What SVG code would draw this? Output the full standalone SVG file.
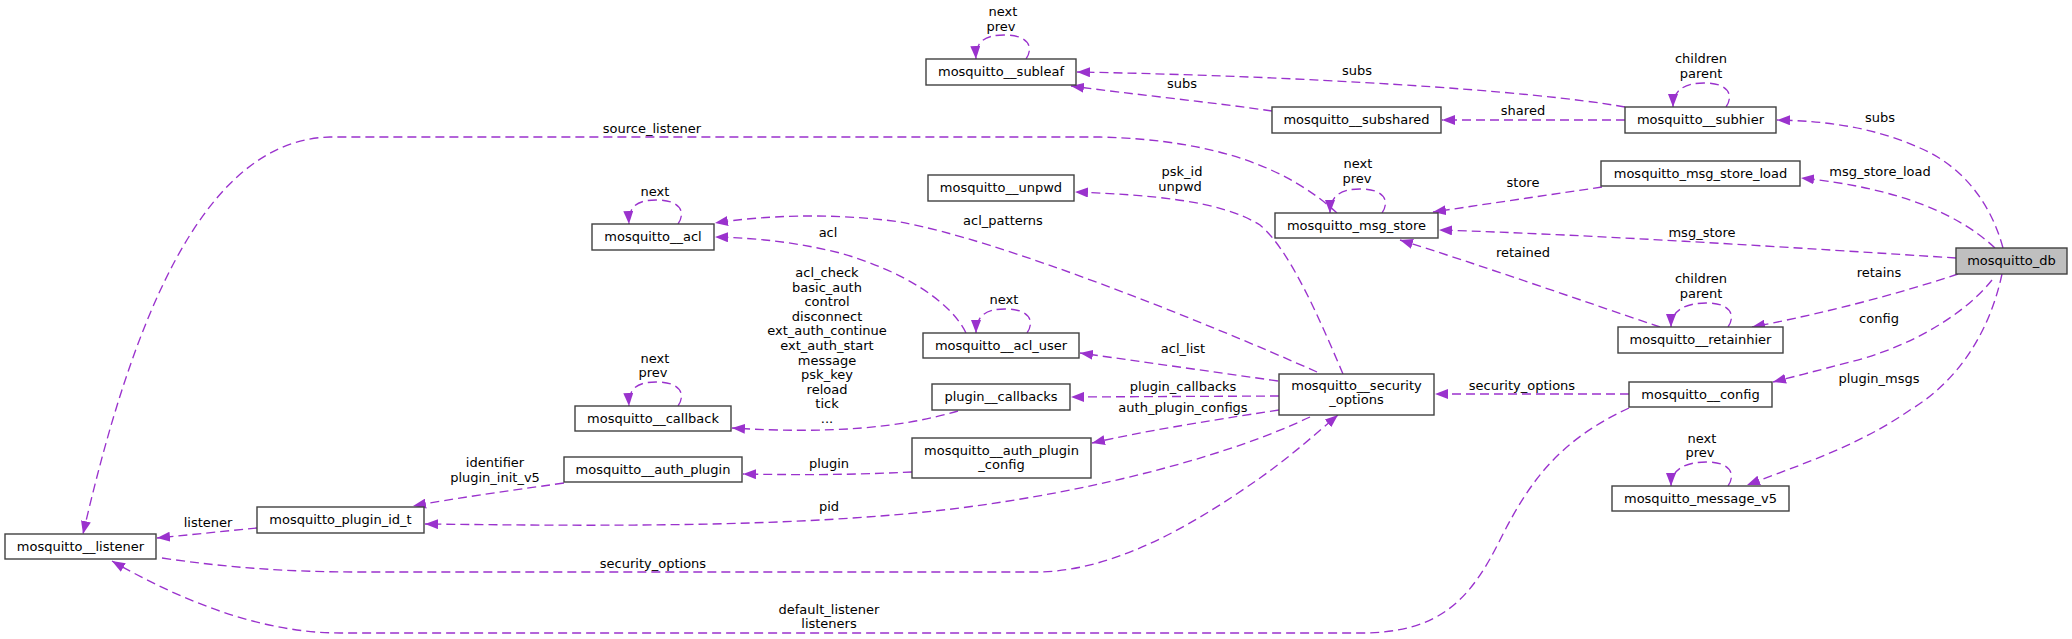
<svg xmlns="http://www.w3.org/2000/svg" width="2072" height="639" viewBox="0 0 2072 639">
<style>
text{font-family:"DejaVu Sans","Liberation Sans",sans-serif;font-size:13px;fill:#000;text-anchor:middle}
.box{fill:#fff;stroke:#404040;stroke-width:1.4}
.cur{fill:#bfbfbf;stroke:#404040;stroke-width:1.4}
.e{fill:none;stroke:#9a32cd;stroke-width:1.35;stroke-dasharray:9,5;marker-end:url(#arr)}
</style>
<defs>
<marker id="arr" viewBox="0 0 13 10" refX="13" refY="5" markerWidth="13" markerHeight="10" markerUnits="userSpaceOnUse" orient="auto">
<path d="M0,0 L13,5 L0,10 z" fill="#9a32cd"/>
</marker>
</defs>
<rect width="2072" height="639" fill="#fff"/>
<g id="edges">
<path class="e" d="M1026,59 C1033,49 1031,35 1004,35 C986,35 975,41 976,59"/>
<path class="e" d="M1726,107 C1733,97 1731,83 1704,83 C1686,83 1673,89 1673,107"/>
<path class="e" d="M1382,213 C1389,203 1387,189 1360,189 C1342,189 1330,195 1330,213"/>
<path class="e" d="M678,224 C685,214 683,200 656,200 C638,200 628,206 629,224"/>
<path class="e" d="M1728,327 C1735,317 1733,303 1706,303 C1688,303 1671,309 1671,327"/>
<path class="e" d="M1027,333 C1034,323 1032,309 1005,309 C987,309 976,315 976,333"/>
<path class="e" d="M678,406 C685,396 683,382 656,382 C638,382 628,388 629,406"/>
<path class="e" d="M1728,486 C1735,476 1733,462 1706,462 C1688,462 1671,468 1671,486"/>
<path class="e" d="M1625,107 C1530,90 1300,76 1077,72"/>
<path class="e" d="M1272,111 C1210,102 1130,94 1071,86"/>
<path class="e" d="M1625,120 L1442,120"/>
<path class="e" d="M2003,248 C1990,200 1960,165 1920,148 C1875,128 1830,121 1777,120"/>
<path class="e" d="M1995,248 C1960,215 1900,188 1801,178"/>
<path class="e" d="M1602,187 L1433,212"/>
<path class="e" d="M1956,258 C1800,248 1600,235 1439,230"/>
<path class="e" d="M1660,327 C1580,300 1480,265 1400,240"/>
<path class="e" d="M1958,274 C1880,300 1800,318 1752,327"/>
<path class="e" d="M1337,213 C1290,170 1220,140 1100,137 L330,137 C200,140 130,330 83,534"/>
<path class="e" d="M1343,374 C1320,320 1290,250 1260,225 C1220,200 1150,195 1075,192"/>
<path class="e" d="M1317,372 C1200,320 1000,240 900,222 C830,212 760,216 715,223"/>
<path class="e" d="M966,333 C950,300 900,270 840,253 C800,243 760,238 715,237"/>
<path class="e" d="M1278,381 L1080,353"/>
<path class="e" d="M1279,396 L1071,397"/>
<path class="e" d="M1279,410 C1200,422 1140,432 1092,443"/>
<path class="e" d="M958,411 C900,428 830,434 732,428"/>
<path class="e" d="M912,472 C850,475 800,475 743,474"/>
<path class="e" d="M564,483 C500,492 450,499 413,506"/>
<path class="e" d="M1310,417 C1230,455 1100,490 960,508 C800,528 600,526 425,524"/>
<path class="e" d="M257,528 L157,538"/>
<path class="e" d="M162,558 C230,568 290,572 360,572 L1040,572 C1120,570 1200,520 1260,478 C1295,453 1320,430 1338,415"/>
<path class="e" d="M1629,408 C1560,440 1530,480 1500,540 C1470,600 1440,633 1360,633 L340,633 C260,633 180,600 112,561"/>
<path class="e" d="M1992,280 C1960,320 1900,350 1850,362 C1820,370 1800,375 1773,382"/>
<path class="e" d="M2002,274 C1990,330 1960,380 1910,410 C1860,445 1800,465 1747,485"/>
<path class="e" d="M1629,394 L1435,394"/>
<text x="1003" y="16">next</text><text x="1001" y="31">prev</text>
<text x="1357" y="75">subs</text>
<text x="1182" y="88">subs</text>
<text x="1701" y="63">children</text><text x="1701" y="78">parent</text>
<text x="1523" y="115">shared</text>
<text x="1880" y="122">subs</text>
<text x="652" y="133">source_listener</text>
<text x="1880" y="176">msg_store_load</text>
<text x="1358" y="168">next</text><text x="1357" y="183">prev</text>
<text x="1182" y="176">psk_id</text><text x="1180" y="191">unpwd</text>
<text x="1523" y="187">store</text>
<text x="655" y="196">next</text>
<text x="1003" y="225">acl_patterns</text>
<text x="828" y="237">acl</text>
<text x="1702" y="237">msg_store</text>
<text x="1523" y="257">retained</text>
<text x="1879" y="277">retains</text>
<text x="1701" y="283">children</text><text x="1701" y="298">parent</text>
<text x="827" y="277">acl_check</text>
<text x="827" y="291.6">basic_auth</text>
<text x="827" y="306.2">control</text>
<text x="827" y="320.8">disconnect</text>
<text x="827" y="335.4">ext_auth_continue</text>
<text x="827" y="350">ext_auth_start</text>
<text x="827" y="364.6">message</text>
<text x="827" y="379.2">psk_key</text>
<text x="827" y="393.8">reload</text>
<text x="827" y="408.4">tick</text>
<text x="827" y="423">...</text>
<text x="1004" y="304">next</text>
<text x="1879" y="323">config</text>
<text x="1183" y="353">acl_list</text>
<text x="655" y="363">next</text><text x="653" y="377">prev</text>
<text x="1879" y="383">plugin_msgs</text>
<text x="1183" y="391">plugin_callbacks</text>
<text x="1522" y="390">security_options</text>
<text x="1183" y="412">auth_plugin_configs</text>
<text x="1702" y="443">next</text><text x="1700" y="457">prev</text>
<text x="829" y="468">plugin</text>
<text x="495" y="467">identifier</text><text x="495" y="482">plugin_init_v5</text>
<text x="829" y="511">pid</text>
<text x="208" y="527">listener</text>
<text x="653" y="568">security_options</text>
<text x="829" y="614">default_listener</text><text x="829" y="628">listeners</text>
</g>
<g id="mosquitto_db"><rect class="cur" x="1956" y="248" width="111" height="26"/><text x="2011.5" y="265">mosquitto_db</text></g>
<g id="mosquitto__subhier"><rect class="box" x="1625" y="107" width="151" height="26"/><text x="1700.5" y="124">mosquitto__subhier</text></g>
<g id="mosquitto__subleaf"><rect class="box" x="926" y="59" width="150" height="26"/><text x="1001" y="76">mosquitto__subleaf</text></g>
<g id="mosquitto__subshared"><rect class="box" x="1272" y="107" width="169" height="26"/><text x="1356.5" y="124">mosquitto__subshared</text></g>
<g id="mosquitto_msg_store_load"><rect class="box" x="1601" y="161" width="199" height="25"/><text x="1700.5" y="178">mosquitto_msg_store_load</text></g>
<g id="mosquitto_msg_store"><rect class="box" x="1275" y="213" width="163" height="25"/><text x="1356.5" y="230">mosquitto_msg_store</text></g>
<g id="mosquitto__listener"><rect class="box" x="5" y="534" width="151" height="25"/><text x="80.5" y="551">mosquitto__listener</text></g>
<g id="mosquitto__acl"><rect class="box" x="592" y="224" width="122" height="26"/><text x="653" y="241">mosquitto__acl</text></g>
<g id="mosquitto__unpwd"><rect class="box" x="928" y="175" width="146" height="26"/><text x="1001" y="192">mosquitto__unpwd</text></g>
<g id="mosquitto__acl_user"><rect class="box" x="923" y="333" width="156" height="25"/><text x="1001" y="350">mosquitto__acl_user</text></g>
<g id="mosquitto__callback"><rect class="box" x="575" y="406" width="156" height="25"/><text x="653" y="423">mosquitto__callback</text></g>
<g id="plugin__callbacks"><rect class="box" x="932" y="384" width="138" height="26"/><text x="1001" y="401">plugin__callbacks</text></g>
<g id="mosquitto__auth_plugin"><rect class="box" x="564" y="457" width="178" height="25"/><text x="653" y="474">mosquitto__auth_plugin</text></g>
<g id="mosquitto__auth_plugin_config"><rect class="box" x="912" y="438" width="179" height="40"/><text x="1001.5" y="455">mosquitto__auth_plugin</text><text x="1001.5" y="469">_config</text></g>
<g id="mosquitto_plugin_id_t"><rect class="box" x="257" y="507" width="167" height="26"/><text x="340.5" y="524">mosquitto_plugin_id_t</text></g>
<g id="mosquitto__security_options"><rect class="box" x="1279" y="374" width="155" height="41"/><text x="1356.5" y="390">mosquitto__security</text><text x="1356.5" y="404">_options</text></g>
<g id="mosquitto__retainhier"><rect class="box" x="1618" y="327" width="165" height="26"/><text x="1700.5" y="344">mosquitto__retainhier</text></g>
<g id="mosquitto__config"><rect class="box" x="1629" y="382" width="143" height="25"/><text x="1700.5" y="399">mosquitto__config</text></g>
<g id="mosquitto_message_v5"><rect class="box" x="1612" y="486" width="177" height="25"/><text x="1700.5" y="503">mosquitto_message_v5</text></g>
</svg>
